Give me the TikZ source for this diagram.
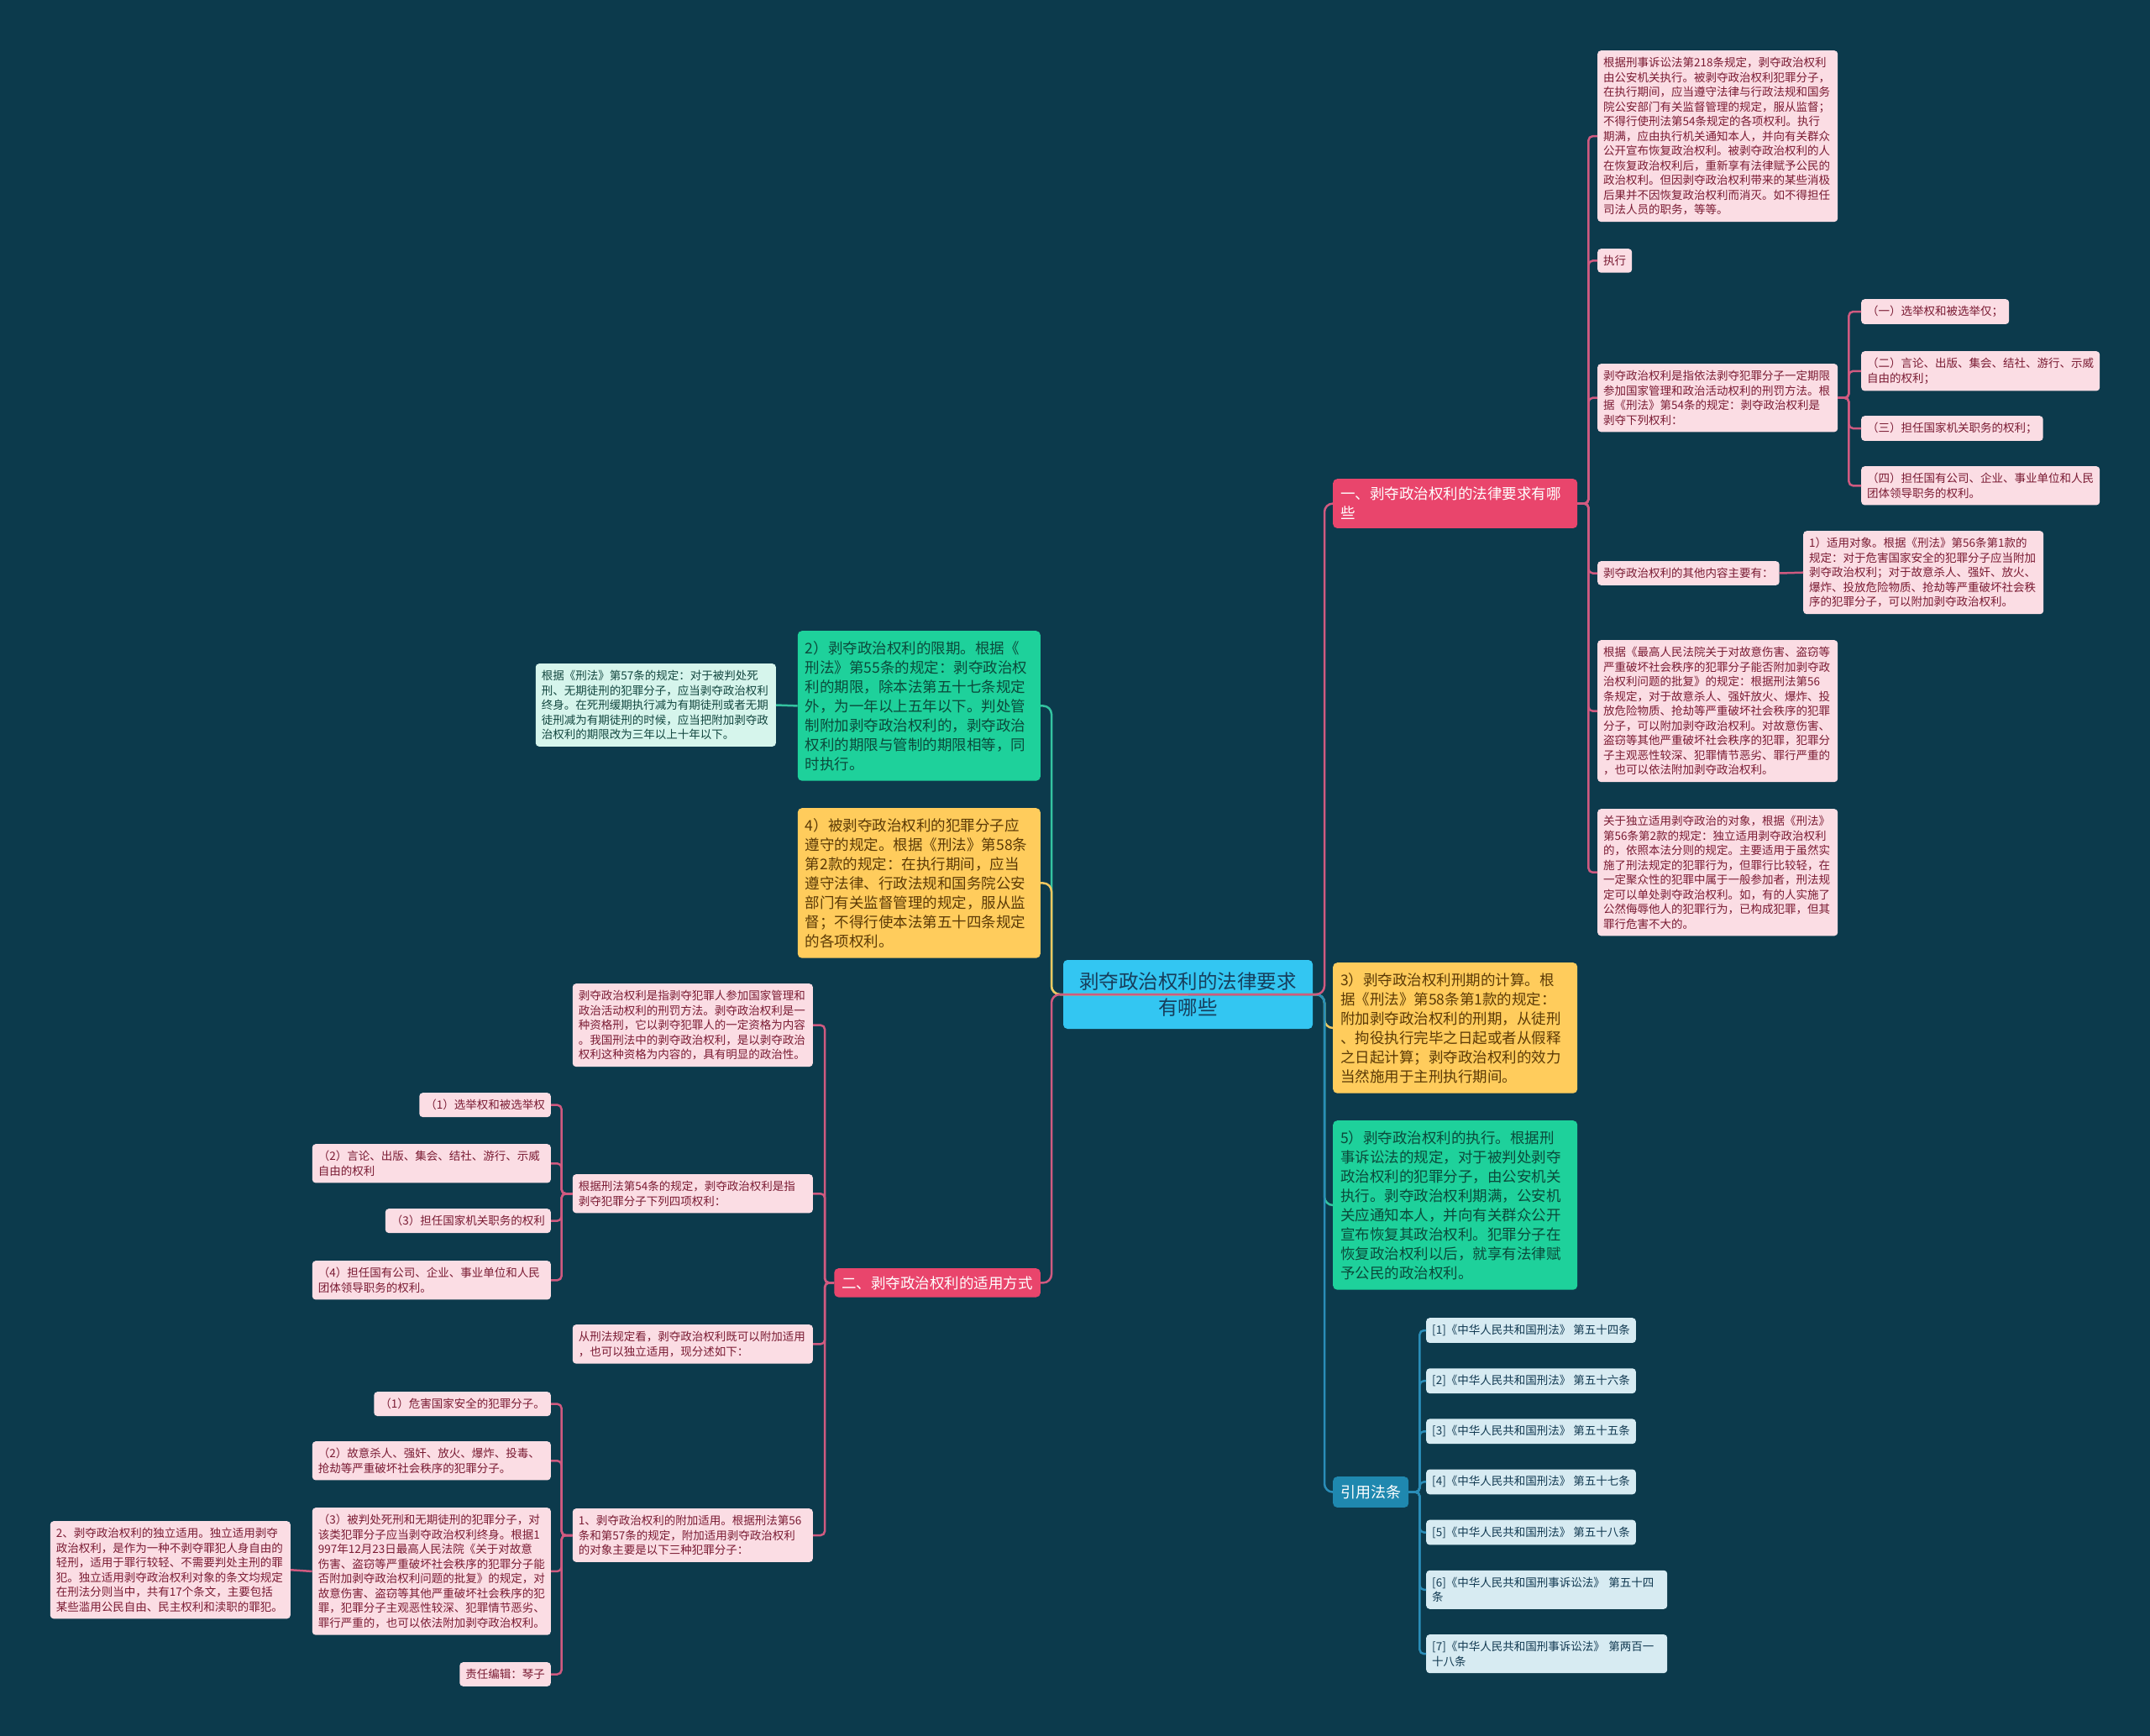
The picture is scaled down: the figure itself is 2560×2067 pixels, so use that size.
\documentclass[tikz,border=0pt]{standalone}
\usepackage{fontspec}
\setmainfont{Noto Sans CJK SC}
\usepackage{tikz}
\usetikzlibrary{positioning}
\definecolor{bgnavy}{HTML}{0C3A4C}
\definecolor{rosefill}{HTML}{FBDDE4}
\definecolor{rosetext}{HTML}{7A1B33}
\definecolor{roseline}{HTML}{D05A80}
\definecolor{redbranch}{HTML}{E9456C}
\definecolor{skyroot}{HTML}{33C6F2}
\definecolor{roottext}{HTML}{173E5C}
\definecolor{jadefill}{HTML}{1ED19B}
\definecolor{jadetext}{HTML}{0B4A3B}
\definecolor{jadeline}{HTML}{34C3A0}
\definecolor{mintfill}{HTML}{D6F5EC}
\definecolor{minttext}{HTML}{12463F}
\definecolor{amberfill}{HTML}{FFCC5C}
\definecolor{ambertext}{HTML}{5B3A06}
\definecolor{amberline}{HTML}{F0C760}
\definecolor{lawblue}{HTML}{1F88AF}
\definecolor{lawline}{HTML}{2A8DB8}
\definecolor{lawfill}{HTML}{D7EBF2}
\definecolor{lawtext}{HTML}{123A52}

\begin{document}
\begin{tikzpicture}[
          x=1pt, y=1pt,
          leaf/.style={fill=rosefill, text=rosetext, rounded corners=4pt,
                       inner xsep=7pt, inner ysep=8pt, align=left,
                       font=\fontsize{13.5}{17.5}\selectfont},
          para/.style={leaf, text width=272pt},
          lawitem/.style={leaf, fill=lawfill, text=lawtext},
          topic/.style={rounded corners=5pt, inner xsep=9pt, inner ysep=12pt,
                        align=left, text width=273pt,
                        font=\fontsize{17.5}{23}\selectfont},
          branch/.style={fill=redbranch, text=white, rounded corners=5pt,
                         inner xsep=9pt, inner ysep=10pt, align=left,
                         font=\fontsize{17.5}{23}\selectfont},
          link/.style={line width=2.5pt, rounded corners=5pt},
          rootlink/.style={line width=2.5pt, rounded corners=10pt}
        ]
          \fill[bgnavy] (0,0) rectangle (2560,-2067);
          \useasboundingbox (0,0) rectangle (2560,-2067);

          \node[fill=skyroot, text=roottext, rounded corners=5pt, minimum width=297pt,
                minimum height=82pt, align=center, font=\fontsize{23.5}{31}\selectfont]
                (root) at (1414.5,-1184) {剥夺政治权利的法律要求\\有哪些};

          \node[branch, text width=273pt, anchor=north west] (b1) at (1587,-570) {一、剥夺政治权利的法律要求有哪\\些};
          \node[topic, fill=amberfill, text=ambertext, anchor=north west] (b3) at (1587,-1146)
                {3）剥夺政治权利刑期的计算。根\\据《刑法》第58条第1款的规定：\\附加剥夺政治权利的刑期，从徒刑\\、拘役执行完毕之日起或者从假释\\之日起计算；剥夺政治权利的效力\\当然施用于主刑执行期间。};
          \node[topic, fill=jadefill, text=jadetext, anchor=north west] (b5) at (1587,-1334)
                {5）剥夺政治权利的执行。根据刑\\事诉讼法的规定，对于被判处剥夺\\政治权利的犯罪分子，由公安机关\\执行。剥夺政治权利期满，公安机\\关应通知本人，并向有关群众公开\\宣布恢复其政治权利。犯罪分子在\\恢复政治权利以后，就享有法律赋\\予公民的政治权利。};
          \node[fill=lawblue, text=white, rounded corners=5pt, inner xsep=9pt, inner ysep=10pt,
                font=\fontsize{18}{23}\selectfont, anchor=north west] (law) at (1587,-1758) {引用法条};

          \node[para, anchor=north west] (a1) at (1902,-60)
                {根据刑事诉讼法第218条规定，剥夺政治权利\\由公安机关执行。被剥夺政治权利犯罪分子，\\在执行期间，应当遵守法律与行政法规和国务\\院公安部门有关监督管理的规定，服从监督；\\不得行使刑法第54条规定的各项权利。执行\\期满，应由执行机关通知本人，并向有关群众\\公开宣布恢复政治权利。被剥夺政治权利的人\\在恢复政治权利后，重新享有法律赋予公民的\\政治权利。但因剥夺政治权利带来的某些消极\\后果并不因恢复政治权利而消灭。如不得担任\\司法人员的职务，等等。};
          \node[leaf, anchor=north west] (a2) at (1902,-296) {执行};
          \node[para, anchor=north west] (a3) at (1902,-433)
                {剥夺政治权利是指依法剥夺犯罪分子一定期限\\参加国家管理和政治活动权利的刑罚方法。根\\据《刑法》第54条的规定：剥夺政治权利是\\剥夺下列权利：};
          \node[leaf, anchor=north west] (r1) at (2216,-356) {（一）选举权和被选举仅；};
          \node[leaf, anchor=north west, text width=270pt] (r2) at (2216,-418) {（二）言论、出版、集会、结社、游行、示威\\自由的权利；};
          \node[leaf, anchor=north west] (r3) at (2216,-495) {（三）担任国家机关职务的权利；};
          \node[leaf, anchor=north west, text width=270pt] (r4) at (2216,-555) {（四）担任国有公司、企业、事业单位和人民\\团体领导职务的权利。};
          \node[leaf, anchor=north west] (a4) at (1902,-668) {剥夺政治权利的其他内容主要有：};
          \node[para, anchor=north west] (a4c) at (2147,-632)
                {1）适用对象。根据《刑法》第56条第1款的\\规定：对于危害国家安全的犯罪分子应当附加\\剥夺政治权利；对于故意杀人、强奸、放火、\\爆炸、投放危险物质、抢劫等严重破坏社会秩\\序的犯罪分子，可以附加剥夺政治权利。};
          \node[para, anchor=north west] (a5) at (1902,-762)
                {根据《最高人民法院关于对故意伤害、盗窃等\\严重破坏社会秩序的犯罪分子能否附加剥夺政\\治权利问题的批复》的规定：根据刑法第56\\条规定，对于故意杀人、强奸放火、爆炸、投\\放危险物质、抢劫等严重破坏社会秩序的犯罪\\分子，可以附加剥夺政治权利。对故意伤害、\\盗窃等其他严重破坏社会秩序的犯罪，犯罪分\\子主观恶性较深、犯罪情节恶劣、罪行严重的\\，也可以依法附加剥夺政治权利。};
          \node[para, anchor=north west] (a6) at (1902,-963)
                {关于独立适用剥夺政治的对象，根据《刑法》\\第56条第2款的规定：独立适用剥夺政治权利\\的，依照本法分则的规定。主要适用于虽然实\\施了刑法规定的犯罪行为，但罪行比较轻，在\\一定聚众性的犯罪中属于一般参加者，刑法规\\定可以单处剥夺政治权利。如，有的人实施了\\公然侮辱他人的犯罪行为，已构成犯罪，但其\\罪行危害不大的。};

          \node[lawitem, anchor=north west] (law1) at (1698,-1569) {[1]《中华人民共和国刑法》 第五十四条};
          \node[lawitem, below=30pt of law1.south west, anchor=north west] (law2) {[2]《中华人民共和国刑法》 第五十六条};
          \node[lawitem, below=30pt of law2.south west, anchor=north west] (law3) {[3]《中华人民共和国刑法》 第五十五条};
          \node[lawitem, below=30pt of law3.south west, anchor=north west] (law4) {[4]《中华人民共和国刑法》 第五十七条};
          \node[lawitem, below=30pt of law4.south west, anchor=north west] (law5) {[5]《中华人民共和国刑法》 第五十八条};
          \node[lawitem, text width=273pt, below=30pt of law5.south west, anchor=north west] (law6) {[6]《中华人民共和国刑事诉讼法》 第五十四\\条};
          \node[lawitem, text width=273pt, below=30pt of law6.south west, anchor=north west] (law7) {[7]《中华人民共和国刑事诉讼法》 第两百一\\十八条};

          \node[topic, fill=jadefill, text=jadetext, text width=271pt, anchor=north east] (l1) at (1239,-751)
                {2）剥夺政治权利的限期。根据《\\刑法》第55条的规定：剥夺政治权\\利的期限，除本法第五十七条规定\\外，为一年以上五年以下。判处管\\制附加剥夺政治权利的，剥夺政治\\权利的期限与管制的期限相等，同\\时执行。};
          \node[para, fill=mintfill, text=minttext, anchor=north east] (mint) at (924,-790)
                {根据《刑法》第57条的规定：对于被判处死\\刑、无期徒刑的犯罪分子，应当剥夺政治权利\\终身。在死刑缓期执行减为有期徒刑或者无期\\徒刑减为有期徒刑的时候，应当把附加剥夺政\\治权利的期限改为三年以上十年以下。};
          \node[topic, fill=amberfill, text=ambertext, text width=271pt, anchor=north east] (l2) at (1239,-962)
                {4）被剥夺政治权利的犯罪分子应\\遵守的规定。根据《刑法》第58条\\第2款的规定：在执行期间，应当\\遵守法律、行政法规和国务院公安\\部门有关监督管理的规定，服从监\\督；不得行使本法第五十四条规定\\的各项权利。};
          \node[branch, inner ysep=9pt, anchor=north east] (l3) at (1239,-1510) {二、剥夺政治权利的适用方式};

          \node[para, anchor=north east] (c1) at (968,-1171)
                {剥夺政治权利是指剥夺犯罪人参加国家管理和\\政治活动权利的刑罚方法。剥夺政治权利是一\\种资格刑，它以剥夺犯罪人的一定资格为内容\\。我国刑法中的剥夺政治权利，是以剥夺政治\\权利这种资格为内容的，具有明显的政治性。};
          \node[para, anchor=north east] (c2) at (968,-1398)
                {根据刑法第54条的规定，剥夺政治权利是指\\剥夺犯罪分子下列四项权利：};
          \node[leaf, anchor=north east] (p1) at (656,-1301) {（1）选举权和被选举权};
          \node[leaf, anchor=north east, text width=270pt] (p2) at (656,-1362) {（2）言论、出版、集会、结社、游行、示威\\自由的权利};
          \node[leaf, anchor=north east] (p3) at (656,-1439) {（3）担任国家机关职务的权利};
          \node[leaf, anchor=north east, text width=270pt] (p4) at (656,-1501) {（4）担任国有公司、企业、事业单位和人民\\团体领导职务的权利。};
          \node[para, anchor=north east] (c3) at (968,-1577)
                {从刑法规定看，剥夺政治权利既可以附加适用\\，也可以独立适用，现分述如下：};
          \node[para, anchor=north east] (c4) at (968,-1796)
                {1、剥夺政治权利的附加适用。根据刑法第56\\条和第57条的规定，附加适用剥夺政治权利\\的对象主要是以下三种犯罪分子：};
          \node[leaf, anchor=north east] (q1) at (656,-1657) {（1）危害国家安全的犯罪分子。};
          \node[leaf, anchor=north east, text width=270pt] (q2) at (656,-1716) {（2）故意杀人、强奸、放火、爆炸、投毒、\\抢劫等严重破坏社会秩序的犯罪分子。};
          \node[leaf, anchor=north east, text width=270pt] (q3) at (656,-1795)
                {（3）被判处死刑和无期徒刑的犯罪分子，对\\该类犯罪分子应当剥夺政治权利终身。根据1\\997年12月23日最高人民法院《关于对故意\\伤害、盗窃等严重破坏社会秩序的犯罪分子能\\否附加剥夺政治权利问题的批复》的规定，对\\故意伤害、盗窃等其他严重破坏社会秩序的犯\\罪，犯罪分子主观恶性较深、犯罪情节恶劣、\\罪行严重的，也可以依法附加剥夺政治权利。};
          \node[leaf, anchor=north east] (q4) at (656,-1979) {责任编辑：琴子};
          \node[para, anchor=north east] (q3c) at (346,-1811)
                {2、剥夺政治权利的独立适用。独立适用剥夺\\政治权利，是作为一种不剥夺罪犯人身自由的\\轻刑，适用于罪行较轻、不需要判处主刑的罪\\犯。独立适用剥夺政治权利对象的条文均规定\\在刑法分则当中，共有17个条文，主要包括\\某些滥用公民自由、民主权利和渎职的罪犯。};

          \draw[link, roseline] (b1.east) -- ++(13,0) |- (a1.west);
          \draw[link, roseline] (b1.east) -- ++(13,0) |- (a2.west);
          \draw[link, roseline] (b1.east) -- ++(13,0) |- (a3.west);
          \draw[link, roseline] (b1.east) -- ++(13,0) |- (a4.west);
          \draw[link, roseline] (b1.east) -- ++(13,0) |- (a5.west);
          \draw[link, roseline] (b1.east) -- ++(13,0) |- (a6.west);
          \draw[link, roseline] (a3.east) -- ++(13,0) |- (r1.west);
          \draw[link, roseline] (a3.east) -- ++(13,0) |- (r2.west);
          \draw[link, roseline] (a3.east) -- ++(13,0) |- (r3.west);
          \draw[link, roseline] (a3.east) -- ++(13,0) |- (r4.west);
          \draw[link, roseline] (a4.east) -- (a4c.west);
          \draw[link, lawline] (law.east) -- ++(13,0) |- (law1.west);
          \draw[link, lawline] (law.east) -- ++(13,0) |- (law2.west);
          \draw[link, lawline] (law.east) -- ++(13,0) |- (law3.west);
          \draw[link, lawline] (law.east) -- ++(13,0) |- (law4.west);
          \draw[link, lawline] (law.east) -- ++(13,0) |- (law5.west);
          \draw[link, lawline] (law.east) -- ++(13,0) |- (law6.west);
          \draw[link, lawline] (law.east) -- ++(13,0) |- (law7.west);
          \draw[link, jadeline] (l1.west) -- (mint.east);
          \draw[link, roseline] (l3.west) -- ++(-11,0) |- (c1.east);
          \draw[link, roseline] (l3.west) -- ++(-11,0) |- (c2.east);
          \draw[link, roseline] (l3.west) -- ++(-11,0) |- (c3.east);
          \draw[link, roseline] (l3.west) -- ++(-11,0) |- (c4.east);
          \draw[link, roseline] (c2.west) -- ++(-13,0) |- (p1.east);
          \draw[link, roseline] (c2.west) -- ++(-13,0) |- (p2.east);
          \draw[link, roseline] (c2.west) -- ++(-13,0) |- (p3.east);
          \draw[link, roseline] (c2.west) -- ++(-13,0) |- (p4.east);
          \draw[link, roseline] (c4.west) -- ++(-13,0) |- (q1.east);
          \draw[link, roseline] (c4.west) -- ++(-13,0) |- (q2.east);
          \draw[link, roseline] (c4.west) -- ++(-13,0) |- (q3.east);
          \draw[link, roseline] (c4.west) -- ++(-13,0) |- (q4.east);
          \draw[link, roseline] (q3.west) -- (q3c.east);

          \draw[rootlink, jadeline] (root.center) -| ([xshift=13pt]l1.east) -- (l1.east);
          \draw[rootlink, amberline] (root.center) -| ([xshift=13pt]l2.east) -- (l2.east);
          \draw[rootlink, amberline] (root.center) -| ([xshift=-10pt]b3.west) -- (b3.west);
          \draw[rootlink, jadeline] (root.center) -| ([xshift=-10pt]b5.west) -- (b5.west);
          \draw[rootlink, lawline] (root.center) -| ([xshift=-10pt]law.west) -- (law.west);
          \draw[rootlink, roseline] (root.center) -| ([xshift=-10pt]b1.west) -- (b1.west);
          \draw[rootlink, roseline] (root.center) -| ([xshift=13pt]l3.east) -- (l3.east);
        \end{tikzpicture}
\end{document}
